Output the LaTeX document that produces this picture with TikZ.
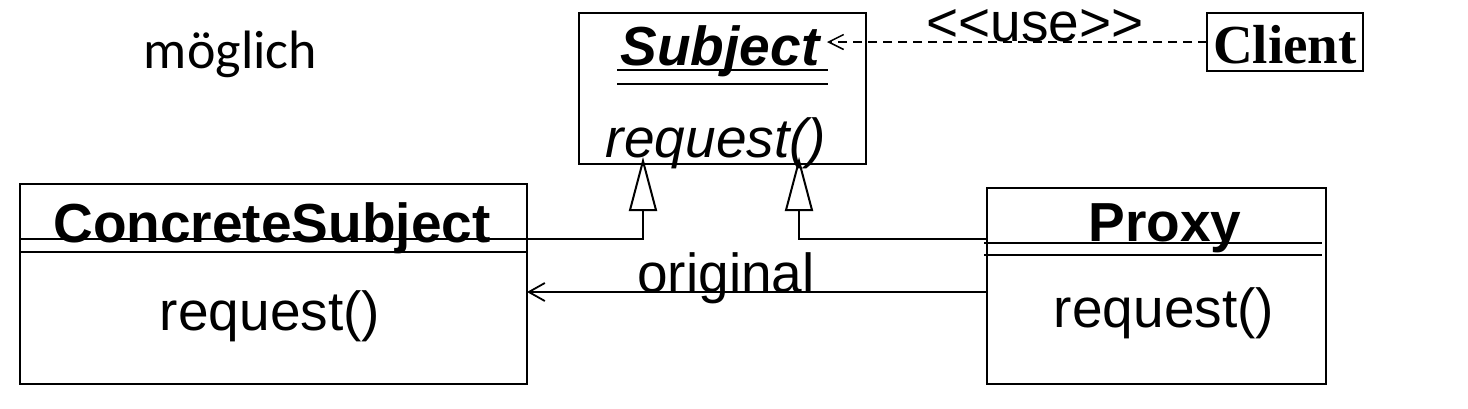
\documentclass[tikz,border=0pt]{standalone}
\usepackage{fontspec}
\setmainfont{Liberation Sans}
\newfontfamily\calibfont{Carlito}
\newfontfamily\timesfont{Liberation Serif}
\usetikzlibrary{arrows.meta}
\begin{document}
\begin{tikzpicture}[x=1pt,y=-1pt,
  classbox/.style={draw, line width=2pt, inner sep=0pt, outer sep=0pt},
  lbl/.style={inner sep=0pt, anchor=base},
  big/.style={font=\fontsize{55}{66}\selectfont},
  conn/.style={line width=2pt},
  sepline/.style={line width=2pt},
  gen/.style={conn, -{Triangle[open, length=54pt, width=28pt, line width=2pt]}},
  nav/.style={conn, -{Straight Barb[length=16pt, width=18pt, line width=1.8pt]}},
  usedep/.style={line width=1.6pt, dash pattern=on 9pt off 6pt, -{Straight Barb[length=15pt, width=15pt, line width=1.5pt]}},
]
\useasboundingbox (0,0) rectangle (1468,408);

% class boxes
\node[classbox, minimum width=287pt, minimum height=151pt] (subj) at (722.5,88.5) {};
\node[classbox, minimum width=156pt, minimum height=58pt] (client) at (1285,42) {};
\node[classbox, minimum width=507pt, minimum height=200pt] (cs) at (273.5,284) {};
\node[classbox, minimum width=339pt, minimum height=196pt] (prox) at (1156.5,286) {};

% compartment lines
\draw[sepline] (20,239) -- (527,239);
\draw[sepline] (20,252) -- (527,252);
\draw[sepline] (984,243) -- (1322,243);
\draw[sepline] (984,255) -- (1322,255);
\draw[sepline] (617,70) -- (828,70);
\draw[sepline] (617,84) -- (828,84);

% texts
\node[lbl, font=\calibfont\fontsize{54}{64}\selectfont] (mog) at (230.5,68) {möglich};
\node[lbl, font=\fontsize{55}{66}\selectfont\bfseries\itshape] (subjname) at (720,65) {Subject};
\node[lbl, font=\fontsize{55}{66}\selectfont\itshape] (subjop) at (716,157) {request()};
\node[lbl, font=\fontsize{55}{66}\selectfont] (use) at (1035,41) {<\kern0pt<use>\kern0pt>};
\node[lbl, font=\timesfont\fontsize{55}{66}\selectfont\bfseries] (clientname) at (1285,63) {Client};
\node[lbl, font=\fontsize{55}{66}\selectfont\bfseries] (csname) at (272,242) {ConcreteSubject};
\node[lbl, big] (csop) at (270,330) {request()};
\node[lbl, font=\fontsize{55}{66}\selectfont\bfseries] (proxname) at (1165,241) {Proxy};
\node[lbl, big] (proxop) at (1164,327) {request()};
\node[lbl, big] (orig) at (726,292) {original};

% connectors
\coordinate (g1) at (643,157);
\coordinate (g2) at (799,157);
\coordinate (ud) at (827,42);
\draw[gen] (cs.east |- 0,239) -| (g1);
\draw[gen] (prox.west |- 0,239) -| (g2);
\draw[nav] (prox.west |- 0,292) -- (cs.east |- 0,292);
\draw[usedep] (client.west |- ud) -- (ud);
\end{tikzpicture}
\end{document}
